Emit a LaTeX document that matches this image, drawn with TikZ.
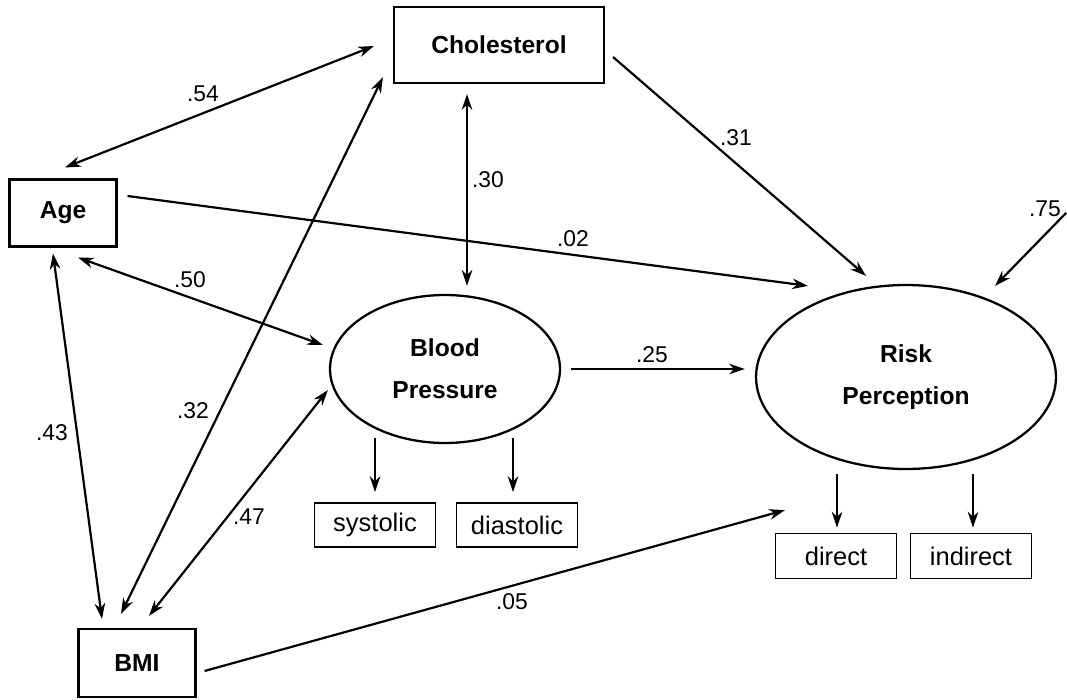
\documentclass[tikz,border=0pt]{standalone}
\usepackage{fontspec}
\setmainfont{Liberation Sans}
\usetikzlibrary{shapes.geometric,arrows.meta}

\begin{document}
\begin{tikzpicture}[x=0.02cm,y=-0.02cm,
    var/.style={rectangle,draw,line width=1.2pt,inner sep=0pt,font=\bfseries\fontsize{14}{17}\selectfont},
    latent/.style={ellipse,draw,line width=1.3pt,inner sep=0pt,align=center,font=\bfseries\fontsize{14}{24}\selectfont},
    ind/.style={rectangle,draw,line width=1pt,inner sep=0pt,minimum width=2.42cm,minimum height=0.88cm,font=\fontsize{14.5}{17}\selectfont},
    coef/.style={inner sep=1pt,font=\fontsize{13}{15}\selectfont},
    effect/.style={line width=1.25pt,-{Stealth[length=9pt,width=6pt]}},
    cov/.style={line width=1.25pt,{Stealth[length=9pt,width=6pt]}-{Stealth[length=9pt,width=6pt]}}]
    \useasboundingbox (0,0) rectangle (1067,699);
            % observed and latent variables
            \node[var,minimum width=4.2cm,minimum height=1.52cm](chol) at (499,45){Cholesterol};
            \node[var,minimum width=2.14cm,minimum height=1.34cm](age) at (63,213){Age};
            \node[var,minimum width=2.34cm,minimum height=1.36cm](bmi) at (137,663){BMI};
            \node[latent,minimum width=4.6cm,minimum height=2.96cm](bp) at (445,369){Blood\\Pressure};
            \node[latent,minimum width=6cm,minimum height=3.68cm](risk) at (906,377){Risk\\Perception};
            \node[ind](sys) at (375,525){systolic};
            \node[ind](dia) at (517,525){diastolic};
            \node[ind,minimum height=0.9cm](dir) at (836,556){direct};
            \node[ind,minimum height=0.9cm](indir) at (971,556){indirect};
            \coordinate(err) at (1066,213);
            % correlations
            \draw[cov]([shift={(2,-11)}]age.north) -- ([shift={(-19,1)}]chol.west);
            \draw[cov]([shift={(-32,10)}]chol.south) -- ([shift={(22,-8)}]bp.north);
            \draw[cov]([shift={(15,10)}]age.south) -- ([shift={(-6,-24)}]bp.west);
            \draw[cov]([shift={(-10,6)}]age.south) -- ([shift={(-35,-9)}]bmi.north);
            \draw[cov]([shift={(-16,-14)}]bmi.north) -- ([shift={(-10,-7)}]chol.south west);
            \draw[cov]([shift={(12,-12)}]bmi.north) -- ([shift={(-1,21)}]bp.west);
            % paths
            \draw[effect]([shift={(10,-17)}]age.east) -- ([shift={(-98,2)}]risk.north);
            \draw[effect]([shift={(8,12)}]chol.east) -- ([shift={(-40,-8)}]risk.north);
            \draw[effect]([shift={(10,0)}]bp.east) -- ([shift={(-10,-8)}]risk.west);
            \draw[effect]([shift={(8,8)}]bmi.east) -- ([shift={(-121,40)}]risk.south);
            \draw[effect](err) -- ([shift={(89,2)}]risk.north);
            \draw[effect]([shift={(-70,-6)}]bp.south) -- ([shift={(0,-10)}]sys.north);
            \draw[effect]([shift={(68,-6)}]bp.south) -- ([shift={(-4,-10)}]dia.north);
            \draw[effect]([shift={(-69,4)}]risk.south) -- ([shift={(1,-5)}]dir.north);
            \draw[effect]([shift={(67,4)}]risk.south) -- ([shift={(2,-5)}]indir.north);
            % coefficients
            \node[coef](c54) at (203,94){.54};
            \node[coef](c02) at (573,239){.02};
            \node[coef](c31) at (736,138){.31};
            \node[coef](c30) at (488,180){.30};
            \node[coef](c50) at (190,280){.50};
            \node[coef](c43) at (52,433){.43};
            \node[coef](c32) at (193,411){.32};
            \node[coef](c47) at (249,517){.47};
            \node[coef](c25) at (652,355){.25};
            \node[coef](c05) at (512,602){.05};
            \node[coef](c75) at (1045,209){.75};
\end{tikzpicture}
\end{document}
